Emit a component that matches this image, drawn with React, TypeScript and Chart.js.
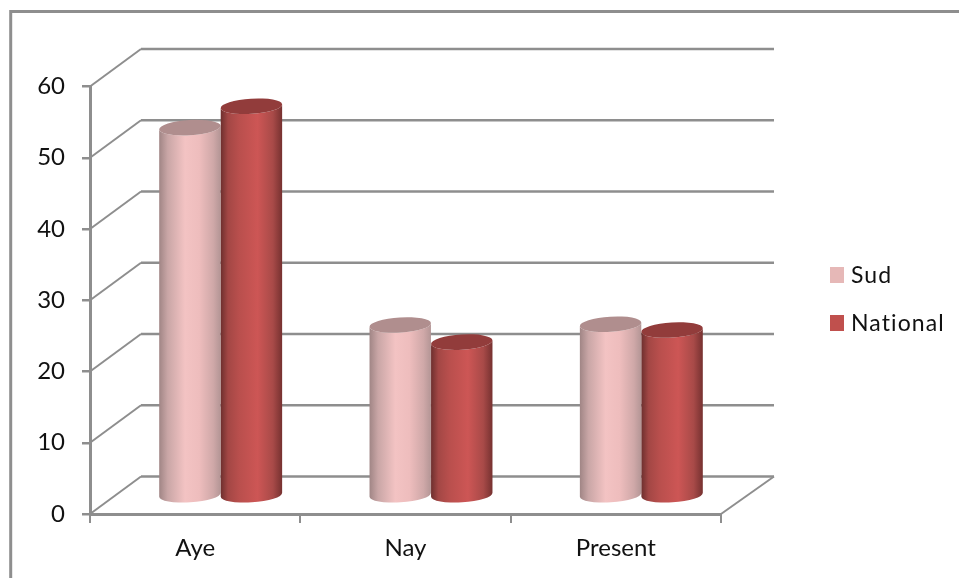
import React, { useEffect, useRef } from "react";
import { Chart, registerables } from "chart.js";

Chart.register(...registerables);

const categories = ["Aye", "Nay", "Present"];
const sudValues = [51.7, 24.0, 24.1];
const nationalValues = [54.7, 21.6, 23.3];
const yTicksMax = 60;
const yTickStep = 10;

const GRAY = "#8e8e8e";
const FONT = "Lato";
const TEXT = "#111111";

// Depth of the floor in pixels, and the share of it where the cylinders stand.
const DEPTH_X = 51;
const DEPTH_Y = -37.5;
const BAR_DX = 25.5;
const BAR_DY = -18;
const ELLIPSE_RY = 7.6;
const ELLIPSE_TILT = (-3.5 * Math.PI) / 180;

const shades = [
  {
    legend: "#e6b8b7",
    cap: "#b08e8e",
    body: [
      [0, "#a08585"],
      [0.14, "#c9a6a6"],
      [0.42, "#f3c3c3"],
      [0.65, "#eebdbd"],
      [0.88, "#cfa8a8"],
      [1, "#b39595"],
    ],
  },
  {
    legend: "#c0504d",
    cap: "#923c3b",
    body: [
      [0, "#6d2f2e"],
      [0.12, "#a34745"],
      [0.3, "#b94f4d"],
      [0.6, "#cd5655"],
      [0.85, "#a84a48"],
      [1, "#763130"],
    ],
  },
];

const depthScene = {
  id: "depthScene",
  beforeDraw(chart: any) {
    const { ctx, scales, chartArea } = chart;
    ctx.save();
    // Outer frame, open towards the right and bottom edges
    ctx.strokeStyle = GRAY;
    ctx.lineWidth = 3;
    ctx.beginPath();
    ctx.moveTo(10.7, chart.height);
    ctx.lineTo(10.7, 11.5);
    ctx.lineTo(chart.width, 11.5);
    ctx.stroke();

    // Back wall lines and the side wall diagonals for each tick
    for (const tick of scales.y.ticks) {
      const y = scales.y.getPixelForValue(tick.value);
      ctx.lineWidth = 2;
      ctx.beginPath();
      ctx.moveTo(chartArea.left, y);
      ctx.lineTo(chartArea.left + DEPTH_X, y + DEPTH_Y);
      ctx.stroke();
      ctx.lineWidth = 2.6;
      ctx.beginPath();
      ctx.moveTo(chartArea.left + DEPTH_X, y + DEPTH_Y);
      ctx.lineTo(chartArea.right + DEPTH_X + 2, y + DEPTH_Y);
      ctx.stroke();
    }
    // Right edge of the floor
    const floor = scales.y.getPixelForValue(0);
    ctx.lineWidth = 2;
    ctx.beginPath();
    ctx.moveTo(chartArea.right, floor);
    ctx.lineTo(chartArea.right + DEPTH_X + 2, floor + DEPTH_Y);
    ctx.stroke();
    ctx.restore();
  },
  beforeDatasetDraw() {
    // Flat rectangles are replaced by the cylinders below
    return false;
  },
  afterDatasetsDraw(chart: any) {
    const { ctx } = chart;
    const count = chart.data.labels.length;
    for (let i = 0; i < count; i++) {
      chart.data.datasets.forEach((_: any, d: number) => {
        const bar = chart.getDatasetMeta(d).data[i];
        const rx = bar.width / 2;
        const cx = bar.x + BAR_DX;
        const top = bar.y + BAR_DY;
        const base = bar.base + BAR_DY;
        const grad = ctx.createLinearGradient(cx - rx, 0, cx + rx, 0);
        for (const [stop, color] of shades[d].body) grad.addColorStop(stop as number, color as string);
        ctx.save();
        ctx.fillStyle = grad;
        ctx.beginPath();
        ctx.ellipse(cx, base, rx, ELLIPSE_RY, ELLIPSE_TILT, Math.PI, 0, true);
        ctx.ellipse(cx, top, rx, ELLIPSE_RY, ELLIPSE_TILT, 0, Math.PI, false);
        ctx.closePath();
        ctx.fill();
        ctx.fillStyle = shades[d].cap;
        ctx.beginPath();
        ctx.ellipse(cx, top, rx, ELLIPSE_RY, ELLIPSE_TILT, 0, Math.PI * 2);
        ctx.fill();
        ctx.restore();
      });
    }
  },
  afterDraw(chart: any) {
    // Series key to the right of the plot
    const { ctx } = chart;
    const rows = [275, 323];
    chart.data.datasets.forEach((ds: any, d: number) => {
      ctx.save();
      ctx.fillStyle = shades[d].legend;
      ctx.fillRect(830, rows[d] - 8, 14, 16);
      ctx.fillStyle = TEXT;
      ctx.font = `23px ${FONT}`;
      ctx.letterSpacing = "1.1px";
      ctx.textBaseline = "middle";
      ctx.fillText(ds.label, 851, rows[d] + 1);
      ctx.restore();
    });
  },
};

export default function App() {
  const ref = useRef<HTMLCanvasElement | null>(null);

  useEffect(() => {
    const chart = new Chart(ref.current as HTMLCanvasElement, {
      type: "bar",
      data: {
        labels: categories,
        datasets: [
          { label: "Sud", data: sudValues, backgroundColor: shades[0].legend },
          { label: "National", data: nationalValues, backgroundColor: shades[1].legend },
        ],
      },
      options: {
        responsive: false,
        animation: false,
        layout: { padding: { left: 0, top: 86.5, right: 238, bottom: 0 } },
        plugins: { legend: { display: false }, tooltip: { enabled: false } },
        datasets: { bar: { categoryPercentage: 0.585, barPercentage: 1 } },
        scales: {
          x: {
            afterFit: (scale: any) => {
              scale.height = 64;
            },
            border: { color: GRAY, width: 3 },
            grid: { drawOnChartArea: false, color: GRAY, lineWidth: 2, tickLength: 9, offset: true },
            ticks: { color: TEXT, font: { family: FONT, size: 24 }, padding: 11, maxRotation: 0 },
          },
          y: {
            min: 0,
            max: yTicksMax,
            afterFit: (scale: any) => {
              scale.width = 90;
            },
            border: { color: GRAY, width: 3 },
            grid: { drawOnChartArea: false, color: GRAY, lineWidth: 2.5, tickLength: 8 },
            ticks: { stepSize: yTickStep, color: TEXT, font: { family: FONT, size: 24 }, padding: 17 },
          },
        },
      },
      plugins: [depthScene],
    } as any);
    return () => chart.destroy();
  }, []);

  return (
    <canvas
      ref={ref}
      width={959}
      height={578}
      style={{ position: "absolute", left: 0, top: 0, width: 959, height: 578 }}
    />
  );
}
